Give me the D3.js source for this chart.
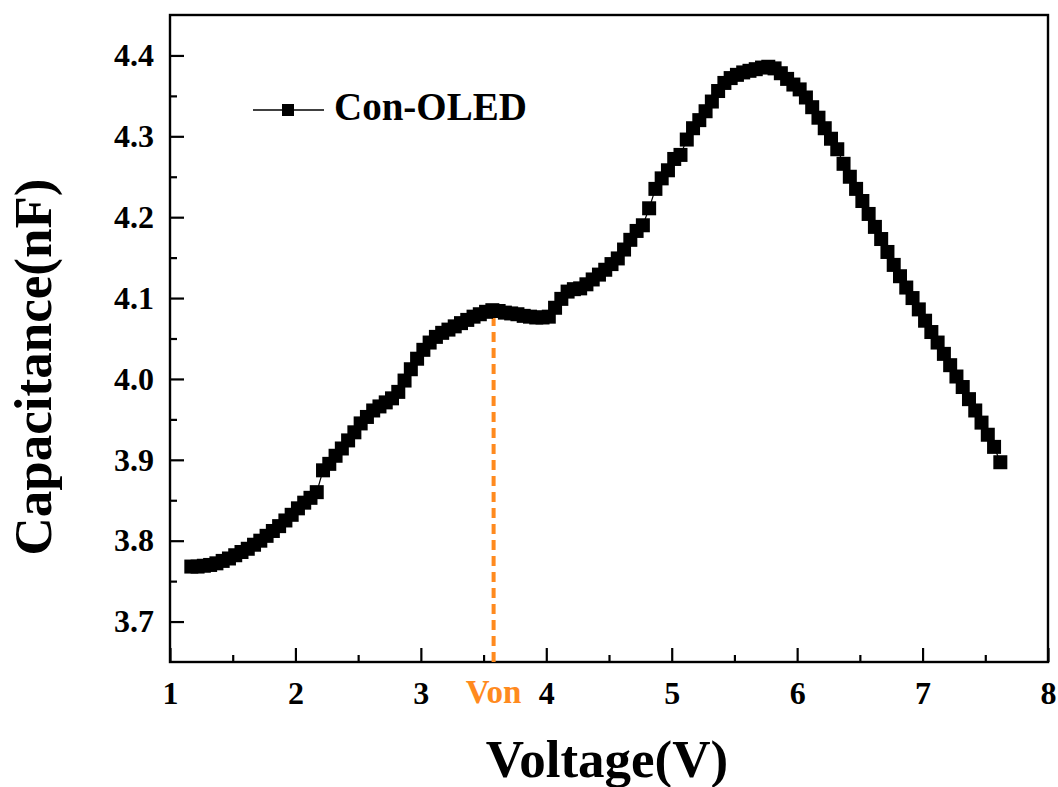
<!DOCTYPE html>
<html>
<head>
<meta charset="utf-8">
<script src="https://cdn.jsdelivr.net/npm/d3@7"></script>
<style>
  html, body { margin: 0; padding: 0; background: #fff; }
  svg { display: block; }
</style>
</head>
<body>
<svg id="chart" width="1058" height="787"></svg>
<script>
const voltage = [
  1.17,1.22,1.27,1.32,1.37,1.42,1.47,1.52,1.57,1.62,
  1.67,1.72,1.77,1.82,1.87,1.92,1.97,2.02,2.07,2.12,
  2.17,2.22,2.27,2.32,2.37,2.42,2.47,2.52,2.57,2.62,
  2.67,2.72,2.77,2.82,2.87,2.92,2.97,3.02,3.07,3.12,
  3.17,3.22,3.27,3.32,3.37,3.42,3.47,3.52,3.57,3.62,
  3.67,3.72,3.77,3.82,3.87,3.92,3.97,4.02,4.07,4.12,
  4.17,4.22,4.27,4.32,4.37,4.42,4.47,4.52,4.57,4.62,
  4.67,4.72,4.77,4.82,4.87,4.92,4.97,5.02,5.07,5.12,
  5.17,5.22,5.27,5.32,5.37,5.42,5.47,5.52,5.57,5.62,
  5.67,5.72,5.77,5.82,5.87,5.92,5.97,6.02,6.07,6.12,
  6.17,6.22,6.27,6.32,6.37,6.42,6.47,6.52,6.57,6.62,
  6.67,6.72,6.77,6.82,6.87,6.92,6.97,7.02,7.07,7.12,
  7.17,7.22,7.27,7.32,7.37,7.42,7.47,7.52,7.57,7.62
];
const capacitance = [
  3.768,3.768,3.769,3.770,3.772,3.775,3.778,3.782,3.786,3.790,
  3.795,3.800,3.806,3.812,3.818,3.825,3.832,3.840,3.847,3.853,
  3.860,3.887,3.895,3.905,3.914,3.924,3.934,3.945,3.953,3.961,
  3.966,3.971,3.976,3.984,3.998,4.012,4.025,4.036,4.045,4.052,
  4.057,4.061,4.065,4.069,4.073,4.077,4.080,4.083,4.085,4.084,
  4.082,4.081,4.080,4.078,4.077,4.076,4.076,4.077,4.088,4.099,
  4.108,4.111,4.112,4.117,4.123,4.129,4.135,4.142,4.149,4.160,
  4.172,4.183,4.190,4.211,4.235,4.248,4.258,4.272,4.277,4.296,
  4.310,4.320,4.331,4.343,4.356,4.366,4.372,4.376,4.379,4.381,
  4.383,4.385,4.386,4.384,4.378,4.371,4.364,4.358,4.348,4.336,
  4.323,4.310,4.297,4.284,4.266,4.250,4.235,4.220,4.204,4.188,
  4.173,4.157,4.141,4.127,4.113,4.100,4.086,4.072,4.058,4.045,
  4.031,4.017,4.003,3.990,3.975,3.961,3.946,3.931,3.916,3.897
];
const xTicks = [1,2,3,4,5,6,7,8];
const xMinorTicks = [1.5,2.5,3.5,4.5,5.5,6.5,7.5];
const yTicks = [3.7,3.8,3.9,4.0,4.1,4.2,4.3,4.4];
const yMinorTicks = [3.75,3.85,3.95,4.05,4.15,4.25,4.35];
const seriesName = "Con-OLED";
const vOn = 3.58;
const cOn = 4.083;
const vOnLabel = "Von";
const xTitle = "Voltage(V)";
const yTitle = "Capacitance(nF)";

const FONT = "'Liberation Serif','Times New Roman',serif";
const ORANGE = "#ff8a1e";
const svg = d3.select("#chart");
const L = 170, R = 1048, T = 15, B = 662;

const x = d3.scaleLinear().domain([1, 8]).range([L, R]);
const y = d3.scaleLinear().domain([3.65, 4.45]).range([B, T]);

// minor ticks
const gx = svg.append("g").attr("transform", `translate(0,${B})`);
gx.call(d3.axisBottom(x).tickValues(xMinorTicks).tickSize(-7).tickFormat(""));
const gy = svg.append("g").attr("transform", `translate(${L},0)`);
gy.call(d3.axisLeft(y).tickValues(yMinorTicks).tickSize(-7).tickFormat(""));

// major axes
const ax = svg.append("g").attr("transform", `translate(0,${B})`)
  .call(d3.axisBottom(x).tickValues(xTicks).tickSize(-14).tickPadding(19).tickFormat(d3.format("d")));
const ay = svg.append("g").attr("transform", `translate(${L},0)`)
  .call(d3.axisLeft(y).tickValues(yTicks).tickSize(-14).tickPadding(16).tickFormat(d3.format(".1f")));

[ax, ay, gx, gy].forEach(g => {
  g.selectAll("line").attr("stroke", "#000").attr("stroke-width", 2.2);
  g.selectAll(".domain").remove();
  g.selectAll("text").attr("fill", "#000").style("font-family", FONT)
    .style("font-weight", "bold").style("font-size", "32px");
});

// frame
svg.append("rect").attr("x", L).attr("y", T).attr("width", R - L).attr("height", B - T)
  .attr("fill", "none").attr("stroke", "#000").attr("stroke-width", 2.4);

// Von dashed line
svg.append("line")
  .attr("x1", x(vOn)).attr("x2", x(vOn)).attr("y1", y(3.65)).attr("y2", y(cOn))
  .attr("stroke", ORANGE).attr("stroke-width", 4).attr("stroke-dasharray", "10,6");

// data line + markers
const pts = voltage.map((v, i) => [v, capacitance[i]]);
svg.append("path").datum(pts)
  .attr("fill", "none").attr("stroke", "#000").attr("stroke-width", 1.2)
  .attr("d", d3.line().x(d => x(d[0])).y(d => y(d[1])));
const M = 14;
svg.append("g").selectAll("rect").data(pts).join("rect")
  .attr("x", d => x(d[0]) - M / 2).attr("y", d => y(d[1]) - M / 2)
  .attr("width", M).attr("height", M).attr("fill", "#000");

// Von label
svg.append("text").attr("x", x(vOn)).attr("y", B + 41)
  .attr("text-anchor", "middle").attr("fill", ORANGE)
  .style("font-family", FONT).style("font-weight", "bold").style("font-size", "33px")
  .text(vOnLabel);

// axis titles
svg.append("text").attr("x", 607).attr("y", 777)
  .attr("text-anchor", "middle").attr("fill", "#000")
  .style("font-family", FONT).style("font-weight", "bold").style("font-size", "53px")
  .text(xTitle);
svg.append("text").attr("transform", "translate(51,367) rotate(-90)")
  .attr("text-anchor", "middle").attr("fill", "#000")
  .style("font-family", FONT).style("font-weight", "bold").style("font-size", "53px")
  .text(yTitle);

// legend
const lg = svg.append("g");
lg.append("line").attr("x1", 253).attr("x2", 324).attr("y1", 110).attr("y2", 110)
  .attr("stroke", "#000").attr("stroke-width", 1.5);
lg.append("rect").attr("x", 288 - 6).attr("y", 110 - 6).attr("width", 12).attr("height", 12).attr("fill", "#000");
lg.append("text").attr("x", 334).attr("y", 120).attr("fill", "#000")
  .style("font-family", FONT).style("font-weight", "bold").style("font-size", "39px")
  .text(seriesName);
</script>
</body>
</html>
